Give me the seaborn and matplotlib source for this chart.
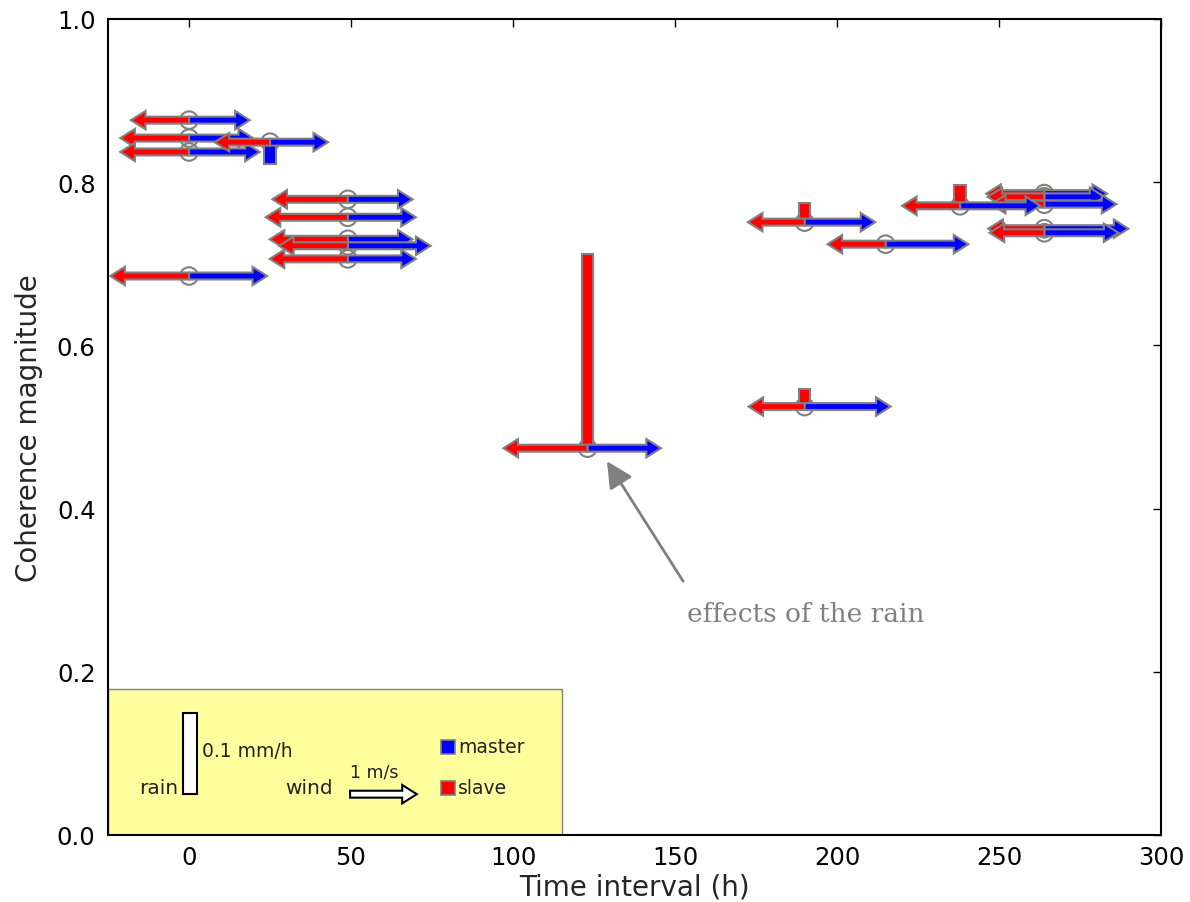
import matplotlib
matplotlib.use("Agg")
import matplotlib.pyplot as plt
import seaborn as sns
import pandas as pd
from matplotlib.patches import Rectangle

# time interval (h) and coherence of each pair
hours = [0, 0, 0, 25, 0, 49, 49, 49, 49, 49, 123, 190, 215, 264, 264, 264, 264, 264, 238, 190]
coherence = [0.876, 0.854, 0.837, 0.849, 0.685, 0.779, 0.757, 0.730, 0.722, 0.706,
             0.474, 0.751, 0.724, 0.786, 0.782, 0.773, 0.743, 0.738, 0.771, 0.525]
# wind speed (m/s) at slave / master acquisition
wind_slave = [0.87, 1.03, 1.03, 0.83, 1.18, 1.13, 1.23, 1.17, 1.03, 1.17,
              1.26, 0.85, 0.87, 0.87, 0.85, 0.80, 0.84, 0.82, 0.87, 0.84]
wind_master = [0.91, 0.96, 1.06, 0.87, 1.17, 0.97, 1.02, 0.97, 1.24, 1.02,
               1.10, 1.06, 1.24, 0.94, 0.90, 1.08, 1.26, 1.11, 1.20, 1.29]
# rain (mm/h) at slave / master acquisition
rain_slave = [0, 0, 0, 0, 0, 0, 0, 0, 0, 0,
              0.238, 0.023, 0, 0, 0, 0, 0, 0, 0.025, 0.022]
rain_master = [0, 0, 0, 0.027, 0, 0, 0, 0, 0, 0,
               0, 0, 0, 0, 0, 0, 0, 0, 0, 0]

WIND_H = 20.6   # hours of x axis per 1 m/s
BAR_W = 3.6

df = pd.DataFrame({"hours": hours, "coherence": coherence,
                   "wind_slave": wind_slave, "wind_master": wind_master,
                   "rain_slave": rain_slave, "rain_master": rain_master})

sns.set_theme(style="white")
plt.rcParams["font.family"] = ["DejaVu Sans"]

fig, ax = plt.subplots(figsize=(11.9, 9.03), dpi=100)
fig.subplots_adjust(left=0.0908, right=0.9756, bottom=0.0742, top=0.9779)


def wind_arrow(x, y, length, fc, ec="gray"):
    ax.arrow(x, y, length, 0, width=0.0085, head_width=0.0225, head_length=4.5,
             length_includes_head=True, fc=fc, ec=ec, lw=1.5, zorder=3)


sns.scatterplot(data=df, x="hours", y="coherence", marker="o", s=160,
                facecolors="none", edgecolor="gray", linewidth=1.5, zorder=2, ax=ax)

wet_s = df[df["rain_slave"] > 0]
ax.bar(wet_s["hours"], wet_s["rain_slave"], width=BAR_W, bottom=wet_s["coherence"],
       color="red", edgecolor="gray", lw=1.5, zorder=2.5)
wet_m = df[df["rain_master"] > 0]
ax.bar(wet_m["hours"], -wet_m["rain_master"], width=BAR_W, bottom=wet_m["coherence"],
       color="blue", edgecolor="gray", lw=1.5, zorder=2.5)

for _, r in df.iterrows():
    wind_arrow(r["hours"], r["coherence"], r["wind_master"] * WIND_H, "blue")
    wind_arrow(r["hours"], r["coherence"], -r["wind_slave"] * WIND_H, "red")

# key box
ax.add_patch(Rectangle((-25, 0), 140, 0.179, fc="#ffff9e", ec="gray", lw=1, zorder=1))
ax.text(-3.2, 0.058, "rain", ha="right", va="center", fontsize=14.5, color="#222222")
ax.bar([0.3], [0.1], width=4.2, bottom=0.05, color="white", edgecolor="black", lw=1.5, zorder=2)
ax.text(4.0, 0.103, "0.1 mm/h", ha="left", va="center", fontsize=13.5, color="#222222")
ax.text(44.4, 0.058, "wind", ha="right", va="center", fontsize=14.5, color="#222222")
ax.arrow(49.7, 0.050, WIND_H, 0, width=0.0085, head_width=0.0225, head_length=4.5,
         length_includes_head=True, fc="white", ec="black", lw=1.5, zorder=3)
ax.text(49.7, 0.078, "1 m/s", ha="left", va="center", fontsize=12.5, color="#222222")
ax.plot([80], [0.108], "s", ms=10, mfc="blue", mec="gray", mew=1.2)
ax.text(83, 0.108, "master", ha="left", va="center", fontsize=13.5, color="#222222")
ax.plot([80], [0.058], "s", ms=10, mfc="red", mec="gray", mew=1.2)
ax.text(83, 0.058, "slave", ha="left", va="center", fontsize=13.5, color="#222222")

# note
ax.annotate("", xy=(129.0, 0.458), xytext=(152.5, 0.311),
            arrowprops=dict(arrowstyle="-|>,head_length=0.8,head_width=0.4",
                            color="gray", lw=2, mutation_scale=20,
                            shrinkA=0, shrinkB=0))
ax.text(153.7, 0.272, "effects of the rain", ha="left", va="center",
        fontsize=19, color="gray", family="DejaVu Serif")

ax.set_xlim(-25, 300)
ax.set_ylim(0, 1.0)
ax.set_xticks([0, 50, 100, 150, 200, 250, 300])
ax.set_yticks([0.0, 0.2, 0.4, 0.6, 0.8, 1.0])
ax.set_yticklabels(["0.0", "0.2", "0.4", "0.6", "0.8", "1.0"])
ax.tick_params(direction="in", length=6, width=1, top=True, right=True,
               labelsize=17.5, colors="black", pad=7)
ax.tick_params(axis="y", pad=9)
ax.set_xlabel("Time interval (h)", fontsize=20, labelpad=3)
ax.set_ylabel("Coherence magnitude", fontsize=20, labelpad=10)
for s in ax.spines.values():
    s.set_color("black")
    s.set_linewidth(1.5)

plt.savefig("out.png", dpi=100)
plt.close()
